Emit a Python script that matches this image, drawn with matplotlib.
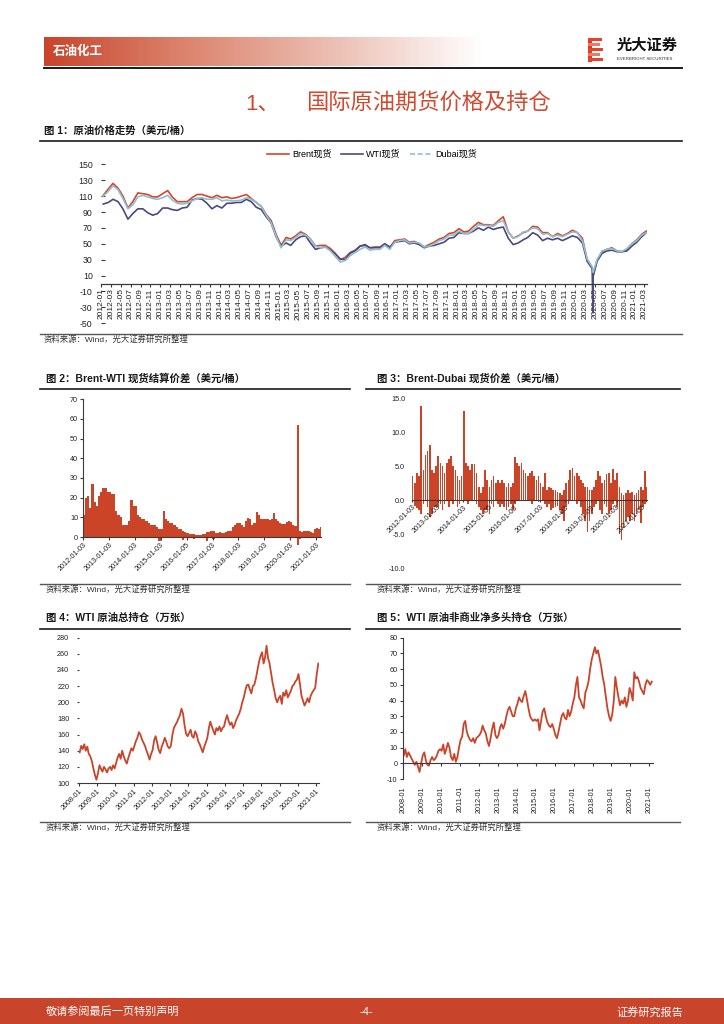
import numpy as np
import pandas as pd
import matplotlib
matplotlib.use('Agg')
import matplotlib.pyplot as plt
import matplotlib.dates as mdates
from matplotlib.lines import Line2D
from matplotlib.patches import Rectangle
from matplotlib.colors import LinearSegmentedColormap
from matplotlib.ticker import FormatStrFormatter

plt.rcParams['font.family'] = ['Liberation Sans', 'Noto Sans CJK SC']
plt.rcParams['axes.unicode_minus'] = False

# ------------------------------------------------------------------ data
# Fig 1: monthly spot prices (USD/bbl), 2012-01 .. 2021-03
brent = [111, 119, 126, 120, 110, 95, 103, 114, 113, 112, 109, 109,
         113, 117, 109, 103, 103, 103, 108, 112, 112, 110, 108, 111,
         108, 109, 107, 108, 110, 112, 107, 102, 97, 87, 79, 62,
         48, 58, 56, 60, 65, 62, 56, 47, 48, 48, 44, 38,
         30, 33, 39, 42, 47, 48, 45, 46, 46, 50, 45, 54,
         55, 56, 52, 53, 50, 46, 49, 52, 56, 58, 63, 64,
         69, 65, 66, 72, 77, 74, 74, 73, 79, 84, 65, 57,
         60, 64, 66, 72, 71, 64, 64, 59, 63, 60, 63, 67,
         64, 57, 30, 20, 29, 40, 43, 45, 41, 40, 43, 50,
         55, 62, 66]
wti = [100, 102, 106, 103, 94, 81, 88, 94, 94, 89, 86, 88,
       95, 95, 93, 92, 95, 96, 105, 107, 106, 101, 94, 98,
       95, 101, 101, 102, 102, 106, 103, 96, 93, 84, 76, 59,
       47, 51, 48, 55, 59, 60, 51, 43, 45, 46, 42, 37,
       31, 30, 38, 41, 47, 49, 45, 45, 45, 50, 46, 52,
       53, 54, 50, 51, 49, 45, 47, 48, 50, 52, 57, 58,
       64, 63, 63, 66, 70, 67, 71, 68, 70, 71, 57, 49,
       51, 55, 58, 64, 61, 54, 57, 55, 57, 54, 57, 60,
       58, 51, 28, 19, 28, 38, 41, 42, 40, 40, 41, 47,
       52, 59, 64]
dubai = [110, 116, 123, 118, 107, 94, 99, 109, 111, 109, 107, 106,
         108, 111, 105, 101, 100, 101, 104, 107, 108, 106, 106, 108,
         104, 105, 104, 104, 105, 108, 106, 102, 97, 86, 76, 60,
         45, 55, 54, 58, 63, 61, 56, 47, 45, 46, 41, 34,
         27, 29, 35, 39, 43, 46, 42, 43, 43, 48, 43, 52,
         54, 55, 51, 52, 51, 46, 47, 50, 54, 56, 61, 61,
         66, 63, 63, 68, 74, 73, 73, 72, 77, 79, 65, 57,
         59, 65, 66, 70, 69, 62, 63, 59, 61, 59, 62, 65,
         64, 54, 31, 21, 30, 41, 43, 44, 41, 40, 44, 50,
         54, 61, 64]
# daily extremes around the April 2020 collapse
extra_dates_1 = ['2020-04-20', '2020-04-21']
brent_extra = [17, 9]
wti_extra = [-37, 10]
dubai_extra = [18, 14]

# Fig 2: Brent-WTI spread, monthly upper / lower envelope, 2012-01 .. 2021-03
bw_hi = [11, 20, 21, 15, 27, 18, 16, 21, 23, 25, 25, 23,
         23, 22, 22, 13, 11, 10, 6, 6, 6, 8, 19, 16,
         16, 11, 10, 9, 9, 8, 7, 6, 6, 6, 5, 4,
         4, 13, 9, 8, 7, 7, 6, 5, 4, 4, 3, 2.5,
         2, 1.5, 1.5, 1.5, 1, 1, 1, 1.5, 1.5, 2.5, 2.5, 3,
         3, 2, 2, 2.5, 2, 2, 2.5, 3, 3, 5, 6, 7,
         7, 6, 5, 8, 9.5, 9, 6, 7, 12.5, 11, 9, 9,
         9, 9, 8.5, 9, 12, 9, 8, 7, 6.5, 6.5, 7.5, 8,
         7.5, 6, 5.5, 57, 3, 2.5, 3, 3, 3, 2.5, 2, 4,
         4.5, 4, 5]
bw_lo = [0, 0, 0, 0, 0, 0, 0, 0, 0, 0, 0, 0,
         0, 0, 0, 0, 0, 0, 0, 0, 0, 0, 0, 0,
         0, 0, 0, 0, 0, 0, 0, 0, 0, 0, 0, -2,
         0, 0, 0, 0, 0, 0, 0, 0, 0, 0, -1.5, 0,
         0, 0, 0, -1, 0, 0, 0, 0, 0, -2, 0, 0,
         -1, 0, 0, 0, 0, 0, 0, 0, 0, 0, 0, 0,
         0, 0, 0, 0, 0, 0, 0, 0, 0, 0, 0, 0,
         0, 0, 0, 0, 0, 0, 0, 0, 0, 0, 0, 0,
         0, 0, 0, -4, -1, 0, 0, 0, 0, 0, 0, 0,
         0, 0, 0]
fig2_ticks = ['2012-01-03', '2013-01-03', '2014-01-03', '2015-01-03', '2016-01-05',
              '2017-01-03', '2018-01-03', '2019-01-03', '2020-01-03', '2021-01-03']

# Fig 3: Brent-Dubai spread, monthly upper / lower envelope, 2012-01 .. 2021-03
bd_hi = [3.5, 2.5, 4.0, 3.5, 13.8, 4.5, 6.6, 7.3, 8.1, 4.5, 4.0, 5.0,
         6.5, 5.5, 5.0, 4.0, 5.5, 6.0, 6.5, 5.0, 4.5, 3.5, 3.0, 3.5,
         13.2, 5.5, 5.0, 4.5, 5.3, 5.3, 4.0, 2.0, 1.0, 2.0, 4.5, 3.0,
         2.0, 3.0, 3.5, 2.5, 3.0, 2.5, 3.0, 2.5, 2.0, 2.5, 2.0, 2.5,
         6.4, 5.5, 5.0, 5.5, 4.5, 4.0, 3.5, 4.0, 4.3, 3.5, 3.0, 3.5,
         2.5, 2.0, 4.0, 1.5, 2.0, 1.8, 1.5, 1.5, 1.2, 1.0, 0.8, 1.5,
         2.5, 3.0, 4.5, 4.8, 3.5, 4.0, 3.5, 3.0, 2.5, 2.0, 2.0, 1.5,
         1.5, 2.0, 3.0, 4.3, 3.5, 2.5, 3.0, 3.8, 4.0, 2.5, 4.6, 3.0,
         4.0, 2.0, 1.0, 0.8, 1.0, 1.5, 1.0, 1.2, 0.8, 1.0, 1.5, 2.0,
         1.5, 4.3, 2.0]
bd_lo = [0, -0.8, -1.2, -1.5, -2.0, -0.5, 0, -1.0, -2.5, -2.0, -1.0, -1.0,
         -1.0, -0.5, -1.5, -0.5, 0, -1.0, 0, -0.5, 0, -1.0, -0.5, 0,
         0, 0, -0.5, 0, 0, 0, -0.5, -1.0, -1.5, -2.0, -1.5, -1.5,
         -2.0, -0.5, -1.0, 0, -0.5, -1.0, -0.5, -1.0, -1.5, -1.0, -0.5, -1.5,
         -0.5, 0, 0, 0, 0, 0, 0, 0, -0.5, 0, 0, -0.3,
         0, 0, -0.5, -1.0, -0.5, -1.5, -1.2, -1.0, -0.8, -1.5, -2.0, -3.0,
         -1.0, -0.5, 0, 0, 0, -0.5, 0, -1.0, -2.0, -3.0, -4.7, -3.0,
         -2.0, -1.0, -0.5, 0, -1.5, -2.0, -0.5, -1.0, -2.0, -1.5, -0.5, 0,
         -1.0, -5.0, -5.9, -4.0, -3.0, -2.5, -3.0, -2.0, -3.0, -2.0, -1.5, -3.3,
         -1.0, -0.5, -0.3]
fig3_ticks = ['2012-01-03', '2013-01-03', '2014-01-03', '2015-01-05', '2016-01-03',
              '2017-01-03', '2018-01-03', '2019-01-03', '2020-01-03', '2021-01-05']

# Fig 4: WTI total open interest (10k contracts), monthly 2008-01 .. 2021-02
oi_total = [138, 146, 142, 148, 140, 145, 136, 133, 127, 118, 110, 104,
            112, 122, 118, 114, 120, 117, 113, 118, 120, 116, 122, 118,
            125, 132, 136, 130, 140, 133, 128, 124, 131, 137, 143, 140,
            146, 152, 156, 163, 160, 154, 150, 146, 140, 135, 129, 136,
            141, 153, 158, 150, 141, 137, 145, 150, 156, 151, 145, 143,
            146, 160, 168, 172, 175, 180, 184, 192, 186, 172, 161, 158,
            162, 166, 158, 156, 164, 160, 152, 148, 143, 138, 145, 150,
            156, 168, 176, 170, 165, 160, 168, 165, 170, 164, 168, 170,
            178, 184, 177, 172, 175, 168, 172, 178, 182, 186, 192, 200,
            206, 215, 221, 222, 216, 211, 220, 222, 230, 240, 250, 257,
            262, 248, 255, 270, 255, 248, 236, 224, 215, 205, 200, 205,
            208, 198, 212, 208, 215, 206, 210, 214, 220, 222, 226, 228,
            235, 222, 208, 202, 196, 200, 205, 200, 208, 212, 215, 218,
            235, 248]

# Fig 5: WTI non-commercial net long (10k contracts), monthly 2008-01 .. 2021-02
net_long = [5, 9, 4, 7, 5, 3, 1, -1, 1, -2, -5.5, 0,
            5, 7, 2, -1, -1.5, 2, 4, 2, 3, 5, 8, 9,
            8, 12, 6, 9, 13, 10, 4, 2, 6, 1, 4, 10,
            15, 17, 25, 27, 20, 17, 15, 14, 16, 13, 16, 17,
            18, 20, 24, 21, 19, 14, 11, 16, 22, 26, 18, 16,
            18, 23, 25, 22, 25, 30, 34, 36, 33, 30, 30, 35,
            38, 42, 40, 39, 43, 46, 41, 35, 30, 28, 27, 28,
            27, 28, 21, 27, 33, 35, 30, 26, 24, 23, 25, 22,
            18, 16, 20, 25, 30, 32, 29, 28, 34, 30, 33, 38,
            42, 50, 55, 42, 40, 37, 35, 45, 48, 52, 60, 66,
            70, 74, 70, 72, 67, 62, 55, 50, 42, 35, 30, 27,
            31, 40, 55, 48, 42, 37, 40, 38, 42, 36, 40, 48,
            45, 40, 58, 54, 55, 52, 48, 46, 44, 50, 53, 52,
            50, 52]

legend_labels = ['Brent现货', 'WTI现货', 'Dubai现货']

# ------------------------------------------------------------------ styles
C_RED = '#C9442A'
C_BRENT = '#D4472A'
C_WTI = '#4A4A7C'
C_DUBAI = '#8DC0D6'
C_BAR = '#CB4427'
C_AX = '#3A3A3A'

W, H = 724, 1024
fig = plt.figure(figsize=(W / 100, H / 100), dpi=100)
fig.patch.set_facecolor('white')


def fx(x):
    return x / W


def fy(y):
    return 1 - y / H


def px_axes(l, t, r, b, **kw):
    return fig.add_axes([fx(l), fy(b), (r - l) / W, (b - t) / H], **kw)


def ftext(x, y, s, **kw):
    kw.setdefault('va', 'center')
    return fig.text(fx(x), fy(y), s, **kw)


def hline(x0, x1, y, color='#222222', lw=1.0):
    fig.add_artist(Line2D([fx(x0), fx(x1)], [fy(y), fy(y)],
                          transform=fig.transFigure, color=color, lw=lw))


def frect(x, y, w, h, color):
    fig.add_artist(Rectangle((fx(x), fy(y + h)), w / W, h / H,
                             transform=fig.transFigure, color=color, lw=0))


def anchor45(ax):
    for lbl in ax.get_xticklabels():
        lbl.set_rotation(45)
        lbl.set_ha('right')
        lbl.set_va('top')
        lbl.set_rotation_mode('anchor')


# ------------------------------------------------------------------ header
hax = px_axes(44, 37, 482, 66)
cmap = LinearSegmentedColormap.from_list('hdr', ['#C8452C', '#DC8670', '#ECC0B4', '#FFFFFF'])
hax.imshow(np.linspace(0, 1, 256)[None, :], aspect='auto', cmap=cmap, extent=[0, 1, 0, 1])
hax.axis('off')
ftext(53, 51.5, '石油化工', color='white', fontsize=9, fontweight='bold')

# logo
frect(588, 38, 4, 24, '#E03A26')
for (yy, ww, cc) in [(38, 14, '#E5432E'), (43, 12, '#EE7A66'), (48, 15, '#E5432E'),
                     (53, 12, '#EE7A66'), (58, 15, '#E5432E')]:
    frect(588, yy, ww, 3.2, cc)
ftext(617, 46, '光大证券', fontsize=11, fontweight='bold', color='#111111')
ftext(617, 58.5, 'EVERBRIGHT SECURITIES', fontsize=3.2, color='#333333')
hline(44, 682, 68, color='#1A1A1A', lw=1.4)

# section title
ftext(245, 104, '1、', fontsize=16, color='#D04A30')
ftext(306, 104, '国际原油期货价格及持仓', fontsize=16, color='#D04A30')

# ------------------------------------------------------------------ Fig 1
ftext(44, 131, '图 1：原油价格走势（美元/桶）', fontsize=7.5, fontweight='bold', color='#1A1A1A')
hline(40, 682, 141, color='#1A1A1A', lw=1.2)
hline(40, 682, 334, color='#555555', lw=1.0)
ftext(44, 340, '资料来源：Wind，光大证券研究所整理', fontsize=6, color='#333333')

d1 = pd.date_range('2012-01-01', periods=len(brent), freq='MS') + pd.Timedelta(days=14)
xd1 = pd.to_datetime(extra_dates_1)


def merged(vals, xv):
    s = pd.Series(list(vals) + list(xv), index=list(d1) + list(xd1)).sort_index()
    return s.index, s.values


ax1 = px_axes(101, 164.3, 647, 323.3)
xb, yb = merged(brent, brent_extra)
xw, yw = merged(wti, wti_extra)
xdb, ydb = merged(dubai, dubai_extra)
hb, = ax1.plot(xb, yb, color=C_BRENT, lw=1.2)
hw, = ax1.plot(xw, yw, color=C_WTI, lw=1.2)
hd, = ax1.plot(xdb, ydb, color=C_DUBAI, lw=1.2)
ax1.set_ylim(-50, 150)
ax1.set_yticks(np.arange(-50, 151, 20))
ax1.set_xlim(pd.Timestamp('2012-01-01'), pd.Timestamp('2021-03-19'))
for s in ['top', 'right', 'left']:
    ax1.spines[s].set_visible(False)
ax1.spines['bottom'].set_position(('data', 0))
ax1.spines['bottom'].set_color(C_AX)
ax1.spines['bottom'].set_linewidth(0.9)
ax1.xaxis.set_major_locator(mdates.MonthLocator(bymonth=[1, 3, 5, 7, 9, 11]))
ax1.xaxis.set_major_formatter(mdates.DateFormatter('%Y-%m'))
ax1.tick_params(axis='x', rotation=90, labelsize=6, length=2, pad=1.5, color=C_AX, labelcolor='#222222')
ax1.tick_params(axis='y', labelsize=6.3, length=3, direction='in', pad=6, color=C_AX, labelcolor='#222222')
dub_proxy = Line2D([], [], color=C_DUBAI, lw=1.2, ls=(0, (3, 1.6)))
ax1.legend([hb, hw, dub_proxy], legend_labels, ncol=3, frameon=False, fontsize=6.5,
           loc='center', bbox_to_anchor=(fx(372), fy(154)), bbox_transform=fig.transFigure,
           handlelength=2.4, handletextpad=0.35, columnspacing=1.1)

# ------------------------------------------------------------------ Fig 2
ftext(46, 379, '图 2：Brent-WTI 现货结算价差（美元/桶）', fontsize=7.5, fontweight='bold', color='#1A1A1A')
hline(40, 350, 389, color='#1A1A1A', lw=1.2)
hline(40, 350, 584, color='#555555', lw=1.0)
ftext(46, 590, '资料来源：Wind，光大证券研究所整理', fontsize=6, color='#333333')

m_bar = mdates.date2num(pd.date_range('2012-01-01', periods=len(bw_hi), freq='MS'))
ax2 = px_axes(83, 399.3, 321, 556.7)
ax2.bar(m_bar, bw_hi, width=31, align='edge', color=C_BAR, linewidth=0)
ax2.bar(m_bar, bw_lo, width=31, align='edge', color=C_BAR, linewidth=0)
ax2.set_ylim(-10, 70)
ax2.set_yticks(np.arange(0, 71, 10))
ax2.set_xlim(mdates.date2num(pd.Timestamp('2012-01-03')), mdates.date2num(pd.Timestamp('2021-03-12')))
ax2.set_xticks(mdates.date2num(pd.to_datetime(fig2_ticks)))
ax2.set_xticklabels(fig2_ticks)
for s in ['top', 'right']:
    ax2.spines[s].set_visible(False)
ax2.spines['left'].set_bounds(0, 70)
ax2.spines['bottom'].set_position(('data', 0))
for s in ['left', 'bottom']:
    ax2.spines[s].set_color(C_AX)
    ax2.spines[s].set_linewidth(0.8)
ax2.tick_params(axis='both', labelsize=5.2, length=2, color=C_AX, labelcolor='#222222')
ax2.tick_params(axis='y', pad=1.5)
ax2.tick_params(axis='x', pad=1)
anchor45(ax2)

# ------------------------------------------------------------------ Fig 3
ftext(377, 379, '图 3：Brent-Dubai 现货价差（美元/桶）', fontsize=7.5, fontweight='bold', color='#1A1A1A')
hline(366, 680, 389, color='#1A1A1A', lw=1.2)
hline(366, 680, 584, color='#555555', lw=1.0)
ftext(377, 590, '资料来源：Wind，光大证券研究所整理', fontsize=6, color='#333333')

ax3 = px_axes(412, 398.3, 647, 568.3)
ax3.bar(m_bar, bd_hi, width=23, align='edge', color=C_BAR, linewidth=0)
ax3.bar(m_bar, bd_lo, width=23, align='edge', color=C_BAR, linewidth=0)
ax3.set_ylim(-10, 15)
ax3.set_yticks(np.arange(-10, 15.1, 5))
ax3.yaxis.set_major_formatter(FormatStrFormatter('%.1f'))
ax3.set_xlim(mdates.date2num(pd.Timestamp('2012-01-03')), mdates.date2num(pd.Timestamp('2021-03-12')))
ax3.set_xticks(mdates.date2num(pd.to_datetime(fig3_ticks)))
ax3.set_xticklabels(fig3_ticks)
for s in ['top', 'right', 'left']:
    ax3.spines[s].set_visible(False)
ax3.spines['bottom'].set_position(('data', 0))
ax3.spines['bottom'].set_color(C_AX)
ax3.spines['bottom'].set_linewidth(0.8)
ax3.tick_params(axis='y', labelsize=5.2, length=0, pad=5, labelcolor='#222222')
ax3.tick_params(axis='x', labelsize=5.2, length=1.5, pad=1, color=C_AX, labelcolor='#222222')
anchor45(ax3)

# ------------------------------------------------------------------ Fig 4
ftext(46, 618, '图 4：WTI 原油总持仓（万张）', fontsize=7.5, fontweight='bold', color='#1A1A1A')
hline(40, 350, 629, color='#1A1A1A', lw=1.2)
hline(40, 350, 822, color='#555555', lw=1.0)
ftext(46, 828, '资料来源：Wind，光大证券研究所整理', fontsize=6, color='#333333')

d45 = pd.date_range('2008-01-01', periods=len(oi_total), freq='MS') + pd.Timedelta(days=14)
ax4 = px_axes(79, 637.7, 319, 783)
ax4.plot(d45, oi_total, color=C_RED, lw=1.3)
ax4.set_ylim(100, 280)
ax4.set_yticks(np.arange(100, 281, 20))
ax4.set_xlim(pd.Timestamp('2008-01-01'), pd.Timestamp('2021-03-01'))
ax4.xaxis.set_major_locator(mdates.YearLocator())
ax4.xaxis.set_major_formatter(mdates.DateFormatter('%Y-%m'))
for s in ['top', 'right', 'left']:
    ax4.spines[s].set_visible(False)
ax4.spines['bottom'].set_color(C_AX)
ax4.spines['bottom'].set_linewidth(0.8)
ax4.tick_params(axis='y', labelsize=5.2, length=1.5, pad=5.5, color=C_AX, labelcolor='#222222')
ax4.tick_params(axis='x', labelsize=5.2, length=2, pad=1.5, color=C_AX, labelcolor='#222222')
anchor45(ax4)

# ------------------------------------------------------------------ Fig 5
ftext(377, 618, '图 5：WTI 原油非商业净多头持仓（万张）', fontsize=7.5, fontweight='bold', color='#1A1A1A')
hline(366, 680, 629, color='#1A1A1A', lw=1.2)
hline(366, 680, 822, color='#555555', lw=1.0)
ftext(377, 828, '资料来源：Wind，光大证券研究所整理', fontsize=6, color='#333333')

ax5 = px_axes(403, 637.7, 652.7, 779)
ax5.plot(d45, net_long, color=C_RED, lw=1.3)
ax5.set_ylim(-10, 80)
ax5.set_yticks(np.arange(-10, 81, 10))
ax5.set_xlim(pd.Timestamp('2008-01-01'), pd.Timestamp('2021-03-05'))
ax5.xaxis.set_major_locator(mdates.YearLocator())
ax5.xaxis.set_major_formatter(mdates.DateFormatter('%Y-%m'))
for s in ['top', 'right']:
    ax5.spines[s].set_visible(False)
ax5.spines['bottom'].set_position(('data', 0))
for s in ['left', 'bottom']:
    ax5.spines[s].set_color(C_AX)
    ax5.spines[s].set_linewidth(0.8)
ax5.tick_params(axis='y', labelsize=5.2, length=2, pad=2, color=C_AX, labelcolor='#222222')
ax5.tick_params(axis='x', labelsize=5.2, length=2, pad=14.5, rotation=90, color=C_AX, labelcolor='#222222')

# ------------------------------------------------------------------ footer
frect(0, 998, 724, 26, '#C8442A')
ftext(46, 1012, '敬请参阅最后一页特别声明', fontsize=8, color='white')
ftext(366, 1012, '-4-', fontsize=8, color='white', ha='center')
ftext(683, 1012, '证券研究报告', fontsize=8, color='white', ha='right')

fig.savefig('out.png', dpi=100, facecolor='white')
